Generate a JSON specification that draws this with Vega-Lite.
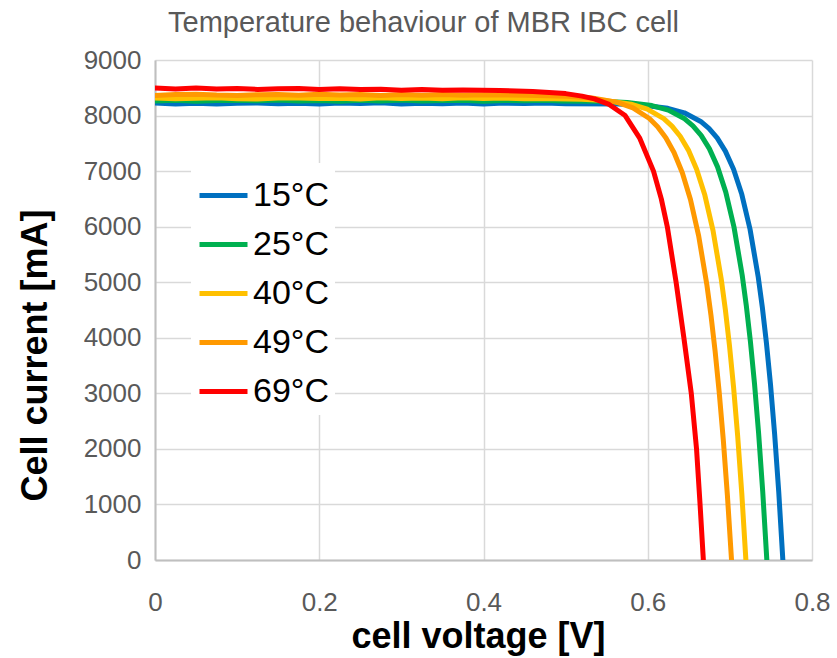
{
  "$schema": "https://vega.github.io/schema/vega-lite/v6.json",
  "width": 657,
  "height": 500,
  "autosize": {"type": "none"},
  "padding": {"left": 155, "top": 60, "right": 25, "bottom": 98},
  "background": "white",
  "title": {
    "text": "Temperature behaviour of MBR IBC cell",
    "font": "Liberation Sans",
    "fontSize": 29,
    "fontWeight": "normal",
    "color": "#595959",
    "anchor": "middle",
    "frame": "bounds",
    "offset": 9
  },
  "config": {
    "view": {"stroke": null},
    "font": "Liberation Sans"
  },
  "data": {
    "values": [
      {"T": "15°C", "V": 0, "I": 8228}, {"T": "15°C", "V": 0.025, "I": 8210}, {"T": "15°C", "V": 0.05, "I": 8223}, {"T": "15°C", "V": 0.075, "I": 8206}, {"T": "15°C", "V": 0.1, "I": 8221}, {"T": "15°C", "V": 0.125, "I": 8227}, {"T": "15°C", "V": 0.15, "I": 8212}, {"T": "15°C", "V": 0.175, "I": 8220}, {"T": "15°C", "V": 0.2, "I": 8208}, {"T": "15°C", "V": 0.225, "I": 8225}, {"T": "15°C", "V": 0.25, "I": 8215}, {"T": "15°C", "V": 0.275, "I": 8229}, {"T": "15°C", "V": 0.3, "I": 8209}, {"T": "15°C", "V": 0.325, "I": 8222}, {"T": "15°C", "V": 0.35, "I": 8213}, {"T": "15°C", "V": 0.375, "I": 8226}, {"T": "15°C", "V": 0.4, "I": 8207}, {"T": "15°C", "V": 0.425, "I": 8224}, {"T": "15°C", "V": 0.45, "I": 8216}, {"T": "15°C", "V": 0.475, "I": 8228}, {"T": "15°C", "V": 0.5, "I": 8211},
      {"T": "15°C", "V": 0.5645, "I": 8207}, {"T": "15°C", "V": 0.5945, "I": 8186}, {"T": "15°C", "V": 0.6245, "I": 8130}, {"T": "15°C", "V": 0.6445, "I": 8049}, {"T": "15°C", "V": 0.6645, "I": 7894}, {"T": "15°C", "V": 0.6745, "I": 7769}, {"T": "15°C", "V": 0.6845, "I": 7598}, {"T": "15°C", "V": 0.6945, "I": 7360}, {"T": "15°C", "V": 0.7045, "I": 7033}, {"T": "15°C", "V": 0.7145, "I": 6582}, {"T": "15°C", "V": 0.7245, "I": 5958}, {"T": "15°C", "V": 0.7345, "I": 5096}, {"T": "15°C", "V": 0.7395, "I": 4551}, {"T": "15°C", "V": 0.7445, "I": 3908}, {"T": "15°C", "V": 0.7495, "I": 3153}, {"T": "15°C", "V": 0.7545, "I": 2266}, {"T": "15°C", "V": 0.7595, "I": 1225}, {"T": "15°C", "V": 0.7645, "I": 0},

      {"T": "25°C", "V": 0, "I": 8262}, {"T": "25°C", "V": 0.025, "I": 8277}, {"T": "25°C", "V": 0.05, "I": 8258}, {"T": "25°C", "V": 0.075, "I": 8272}, {"T": "25°C", "V": 0.1, "I": 8275}, {"T": "25°C", "V": 0.125, "I": 8265}, {"T": "25°C", "V": 0.15, "I": 8279}, {"T": "25°C", "V": 0.175, "I": 8260}, {"T": "25°C", "V": 0.2, "I": 8270}, {"T": "25°C", "V": 0.225, "I": 8257}, {"T": "25°C", "V": 0.25, "I": 8274}, {"T": "25°C", "V": 0.275, "I": 8264}, {"T": "25°C", "V": 0.3, "I": 8278}, {"T": "25°C", "V": 0.325, "I": 8261}, {"T": "25°C", "V": 0.35, "I": 8271}, {"T": "25°C", "V": 0.375, "I": 8276}, {"T": "25°C", "V": 0.4, "I": 8259}, {"T": "25°C", "V": 0.425, "I": 8273}, {"T": "25°C", "V": 0.45, "I": 8266}, {"T": "25°C", "V": 0.475, "I": 8277},
      {"T": "25°C", "V": 0.495, "I": 8264}, {"T": "25°C", "V": 0.545, "I": 8257}, {"T": "25°C", "V": 0.575, "I": 8236}, {"T": "25°C", "V": 0.605, "I": 8180}, {"T": "25°C", "V": 0.625, "I": 8098}, {"T": "25°C", "V": 0.645, "I": 7942}, {"T": "25°C", "V": 0.655, "I": 7816}, {"T": "25°C", "V": 0.665, "I": 7644}, {"T": "25°C", "V": 0.675, "I": 7405}, {"T": "25°C", "V": 0.685, "I": 7076}, {"T": "25°C", "V": 0.695, "I": 6622}, {"T": "25°C", "V": 0.705, "I": 5994}, {"T": "25°C", "V": 0.715, "I": 5127}, {"T": "25°C", "V": 0.72, "I": 4578}, {"T": "25°C", "V": 0.725, "I": 3932}, {"T": "25°C", "V": 0.73, "I": 3172}, {"T": "25°C", "V": 0.735, "I": 2280}, {"T": "25°C", "V": 0.74, "I": 1232}, {"T": "25°C", "V": 0.745, "I": 0},

      {"T": "40°C", "V": 0, "I": 8317}, {"T": "40°C", "V": 0.025, "I": 8301}, {"T": "40°C", "V": 0.05, "I": 8313}, {"T": "40°C", "V": 0.075, "I": 8320}, {"T": "40°C", "V": 0.1, "I": 8304}, {"T": "40°C", "V": 0.125, "I": 8299}, {"T": "40°C", "V": 0.15, "I": 8315}, {"T": "40°C", "V": 0.175, "I": 8318}, {"T": "40°C", "V": 0.2, "I": 8306}, {"T": "40°C", "V": 0.225, "I": 8312}, {"T": "40°C", "V": 0.25, "I": 8300}, {"T": "40°C", "V": 0.275, "I": 8319}, {"T": "40°C", "V": 0.3, "I": 8305}, {"T": "40°C", "V": 0.325, "I": 8316}, {"T": "40°C", "V": 0.35, "I": 8302}, {"T": "40°C", "V": 0.375, "I": 8321}, {"T": "40°C", "V": 0.4, "I": 8307}, {"T": "40°C", "V": 0.425, "I": 8314}, {"T": "40°C", "V": 0.45, "I": 8303},
      {"T": "40°C", "V": 0.4695, "I": 8307}, {"T": "40°C", "V": 0.5195, "I": 8294}, {"T": "40°C", "V": 0.5495, "I": 8269}, {"T": "40°C", "V": 0.5795, "I": 8205}, {"T": "40°C", "V": 0.5995, "I": 8115}, {"T": "40°C", "V": 0.6195, "I": 7945}, {"T": "40°C", "V": 0.6295, "I": 7811}, {"T": "40°C", "V": 0.6395, "I": 7628}, {"T": "40°C", "V": 0.6495, "I": 7378}, {"T": "40°C", "V": 0.6595, "I": 7035}, {"T": "40°C", "V": 0.6695, "I": 6568}, {"T": "40°C", "V": 0.6795, "I": 5929}, {"T": "40°C", "V": 0.6895, "I": 5056}, {"T": "40°C", "V": 0.6945, "I": 4506}, {"T": "40°C", "V": 0.6995, "I": 3862}, {"T": "40°C", "V": 0.7045, "I": 3110}, {"T": "40°C", "V": 0.7095, "I": 2230}, {"T": "40°C", "V": 0.7145, "I": 1202}, {"T": "40°C", "V": 0.7195, "I": 0},

      {"T": "49°C", "V": 0, "I": 8363}, {"T": "49°C", "V": 0.025, "I": 8378}, {"T": "49°C", "V": 0.05, "I": 8383}, {"T": "49°C", "V": 0.075, "I": 8368}, {"T": "49°C", "V": 0.1, "I": 8362}, {"T": "49°C", "V": 0.125, "I": 8375}, {"T": "49°C", "V": 0.15, "I": 8380}, {"T": "49°C", "V": 0.175, "I": 8365}, {"T": "49°C", "V": 0.2, "I": 8382}, {"T": "49°C", "V": 0.225, "I": 8370}, {"T": "49°C", "V": 0.25, "I": 8377}, {"T": "49°C", "V": 0.275, "I": 8361}, {"T": "49°C", "V": 0.3, "I": 8379}, {"T": "49°C", "V": 0.325, "I": 8367}, {"T": "49°C", "V": 0.35, "I": 8381}, {"T": "49°C", "V": 0.375, "I": 8364}, {"T": "49°C", "V": 0.4, "I": 8376}, {"T": "49°C", "V": 0.425, "I": 8369},
      {"T": "49°C", "V": 0.452, "I": 8365}, {"T": "49°C", "V": 0.502, "I": 8349}, {"T": "49°C", "V": 0.532, "I": 8318}, {"T": "49°C", "V": 0.562, "I": 8242}, {"T": "49°C", "V": 0.582, "I": 8137}, {"T": "49°C", "V": 0.602, "I": 7947}, {"T": "49°C", "V": 0.612, "I": 7800}, {"T": "49°C", "V": 0.622, "I": 7602}, {"T": "49°C", "V": 0.632, "I": 7335}, {"T": "49°C", "V": 0.642, "I": 6974}, {"T": "49°C", "V": 0.652, "I": 6488}, {"T": "49°C", "V": 0.662, "I": 5834}, {"T": "49°C", "V": 0.672, "I": 4952}, {"T": "49°C", "V": 0.677, "I": 4402}, {"T": "49°C", "V": 0.682, "I": 3762}, {"T": "49°C", "V": 0.687, "I": 3021}, {"T": "49°C", "V": 0.692, "I": 2160}, {"T": "49°C", "V": 0.697, "I": 1161}, {"T": "49°C", "V": 0.702, "I": 0},

      {"T": "69°C", "V": 0, "I": 8495}, {"T": "69°C", "V": 0.025, "I": 8480}, {"T": "69°C", "V": 0.05, "I": 8496}, {"T": "69°C", "V": 0.075, "I": 8480}, {"T": "69°C", "V": 0.1, "I": 8489}, {"T": "69°C", "V": 0.125, "I": 8470}, {"T": "69°C", "V": 0.15, "I": 8481}, {"T": "69°C", "V": 0.175, "I": 8485}, {"T": "69°C", "V": 0.2, "I": 8468}, {"T": "69°C", "V": 0.225, "I": 8483}, {"T": "69°C", "V": 0.25, "I": 8467}, {"T": "69°C", "V": 0.275, "I": 8474}, {"T": "69°C", "V": 0.3, "I": 8457}, {"T": "69°C", "V": 0.325, "I": 8468}, {"T": "69°C", "V": 0.35, "I": 8457},
      {"T": "69°C", "V": 0.375, "I": 8460}, {"T": "69°C", "V": 0.42, "I": 8450}, {"T": "69°C", "V": 0.46, "I": 8435}, {"T": "69°C", "V": 0.5, "I": 8395}, {"T": "69°C", "V": 0.52, "I": 8350}, {"T": "69°C", "V": 0.535, "I": 8300}, {"T": "69°C", "V": 0.553, "I": 8200}, {"T": "69°C", "V": 0.5725, "I": 8000}, {"T": "69°C", "V": 0.59, "I": 7600}, {"T": "69°C", "V": 0.607, "I": 7000}, {"T": "69°C", "V": 0.6165, "I": 6500}, {"T": "69°C", "V": 0.6238, "I": 6000}, {"T": "69°C", "V": 0.6345, "I": 5000}, {"T": "69°C", "V": 0.644, "I": 4000}, {"T": "69°C", "V": 0.653, "I": 3000}, {"T": "69°C", "V": 0.6594, "I": 2000}, {"T": "69°C", "V": 0.6637, "I": 1000}, {"T": "69°C", "V": 0.6677, "I": 0}
    ]
  },
  "mark": {"type": "line", "strokeWidth": 5, "strokeJoin": "round", "strokeCap": "round", "clip": true},
  "encoding": {
    "x": {
      "field": "V",
      "type": "quantitative",
      "scale": {"domain": [0, 0.8], "nice": false, "zero": false},
      "axis": {
        "values": [0, 0.2, 0.4, 0.6, 0.8],
        "format": ".1~f",
        "title": "cell voltage [V]",
        "titleFont": "Liberation Sans",
        "titleFontSize": 36,
        "titleFontWeight": "bold",
        "titleColor": "#000000",
        "titleX": 323,
        "titleY": 76,
        "titleAlign": "center",
        "titleBaseline": "middle",
        "labelFont": "Liberation Sans",
        "labelFontSize": 26,
        "labelColor": "#595959",
        "labelPadding": 29,
        "labelFlush": false,
        "labelOverlap": false,
        "ticks": false,
        "grid": true,
        "gridColor": "#D9D9D9",
        "gridWidth": 1.5,
        "domain": true,
        "domainColor": "#BFBFBF",
        "domainWidth": 2
      }
    },
    "y": {
      "field": "I",
      "type": "quantitative",
      "scale": {"domain": [0, 9000], "nice": false},
      "axis": {
        "values": [0, 1000, 2000, 3000, 4000, 5000, 6000, 7000, 8000, 9000],
        "format": "d",
        "title": "Cell current [mA]",
        "titleFont": "Liberation Sans",
        "titleFontSize": 36,
        "titleFontWeight": "bold",
        "titleColor": "#000000",
        "titleAngle": -90,
        "titleX": -120,
        "titleY": 295,
        "titleAlign": "center",
        "titleBaseline": "middle",
        "labelFont": "Liberation Sans",
        "labelFontSize": 26,
        "labelColor": "#595959",
        "labelPadding": 14,
        "labelOverlap": false,
        "ticks": false,
        "grid": true,
        "gridColor": "#D9D9D9",
        "gridWidth": 1.5,
        "domain": true,
        "domainColor": "#BFBFBF",
        "domainWidth": 2
      }
    },
    "color": {
      "field": "T",
      "type": "nominal",
      "scale": {
        "domain": ["15°C", "25°C", "40°C", "49°C", "69°C"],
        "range": ["#0070C0", "#00B050", "#FFC000", "#FF9900", "#FF0000"]
      },
      "legend": {
        "title": null,
        "orient": "none",
        "legendX": 36,
        "legendY": 103,
        "symbolType": "stroke",
        "symbolSize": 2304,
        "symbolStrokeWidth": 5,
        "labelFont": "Liberation Sans",
        "labelFontSize": 34,
        "labelColor": "#000000",
        "labelOffset": 3,
        "rowPadding": 5,
        "padding": 6,
        "fillColor": "white"
      }
    }
  }
}
